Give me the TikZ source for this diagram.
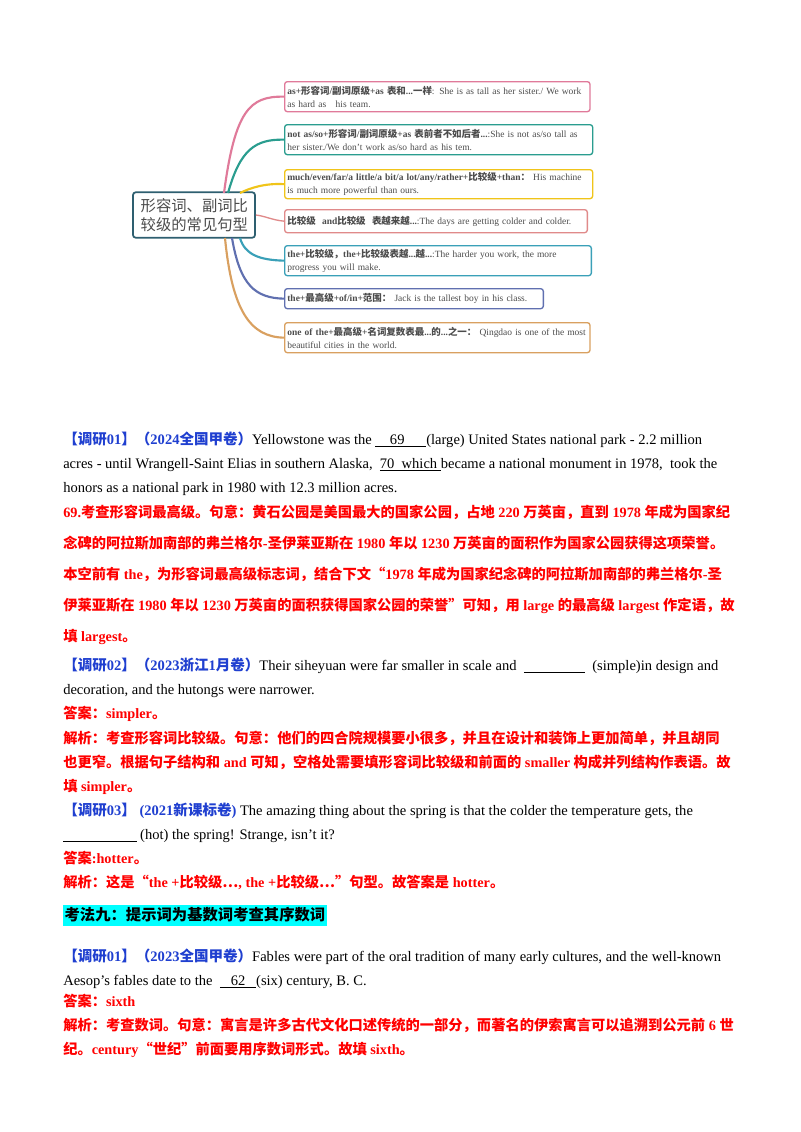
\documentclass[tikz,border=0pt]{standalone}
\usepackage{fontspec}
\setmainfont{Liberation Serif}
\newfontfamily\cjk{Noto Sans CJK SC}
\XeTeXinterchartokenstate=1
\newXeTeXintercharclass\CJKcls
\count255="3000
\loop \XeTeXcharclass\count255=\CJKcls \ifnum\count255<"9FFF \advance\count255 1 \repeat
\count255="FF00
\loop \XeTeXcharclass\count255=\CJKcls \ifnum\count255<"FFEF \advance\count255 1 \repeat
\XeTeXcharclass"201C=\CJKcls
\XeTeXcharclass"201D=\CJKcls
\XeTeXcharclass"2026=\CJKcls
\XeTeXinterchartoks 0 \CJKcls = {\cjk}
\XeTeXinterchartoks 4095 \CJKcls = {\cjk}
\XeTeXinterchartoks \CJKcls 0 = {\rmfamily}
\XeTeXinterchartoks \CJKcls 4095 = {\rmfamily}
\definecolor{qblue}{HTML}{1F3FD0}
\definecolor{qred}{HTML}{FF0000}
\definecolor{hcyan}{HTML}{00FFFF}
\definecolor{cpink}{HTML}{E07A9A}
\definecolor{cteal}{HTML}{2A9D8F}
\definecolor{cyel}{HTML}{F0C419}
\definecolor{cred}{HTML}{E08A8A}
\definecolor{ccyan}{HTML}{3AA0B8}
\definecolor{cblue}{HTML}{6070B0}
\definecolor{corg}{HTML}{D9A060}
\definecolor{cdark}{HTML}{2E5F70}
\begin{document}
\begin{tikzpicture}[x=0.75pt,y=-0.75pt,
  br/.style={draw=#1,line width=1pt,rounded corners=2pt,anchor=north west,inner sep=2pt,
    font=\fontsize{7.1}{9.6}\selectfont,text=black!70,align=left},
  con/.style={draw=#1,line width=1.6pt},
  ln/.style={anchor=base west,inner sep=0pt,font=\fontsize{10.9}{12}\selectfont},
  rl/.style={ln,text=qred,font=\fontsize{10.7}{12}\selectfont\bfseries}]
\useasboundingbox (0,0) rectangle (800,1132);
\fill[white] (0,0) rectangle (800,1132);
% mind map
\node[draw=cdark,line width=1.3pt,rounded corners=2pt,minimum width=91.5pt,minimum height=34pt,
  text width=80pt,align=center,font=\fontsize{11.5}{14}\selectfont,text=black!70,inner sep=2pt]
  (c) at (194,215) {形容词、副词比\\较级的常见句型};
\node[br=cpink,text width=225pt,minimum height=30*0.75pt] (b1) at (284,81) {\textbf{as+形容词/副词原级+as 表和...一样}: She is as tall as her sister./ We work as hard as\ \ \ his team.};
\node[br=cteal,text width=227pt,minimum height=30*0.75pt] (b2) at (284,124) {\textbf{not as/so+形容词/副词原级+as 表前者不如后者...}:She is not as/so tall as her sister./We don't work as/so hard as his tem.};
\node[br=cyel,text width=227pt,minimum height=29*0.75pt] (b3) at (284,169) {\textbf{much/even/far/a little/a bit/a lot/any/rather+比较级+than：} His machine is much more powerful than ours.};
\node[br=cred,text width=223pt,minimum height=23*0.75pt] (b4) at (284,209) {\textbf{比较级\ \ and比较级\ \ 表越来越...}:The days are getting colder and colder.};
\node[br=ccyan,text width=226pt,minimum height=30*0.75pt] (b5) at (284,245) {\textbf{the+比较级，the+比较级表越...越...}:The harder you work, the more progress you will make.};
\node[br=cblue,text width=190pt,minimum height=20*0.75pt] (b6) at (284,288) {\textbf{the+最高级+of/in+范围：} Jack is the tallest boy in his class.};
\node[br=corg,text width=225pt,minimum height=30*0.75pt] (b7) at (284,322) {\textbf{one of the+最高级+名词复数表最...的...之一：} Qingdao is one of the most beautiful cities in the world.};
\coordinate (s1) at (224,193);
\coordinate (s2) at (228,193);
\coordinate (s3) at (240,193);
\coordinate (s5) at (240,238);
\coordinate (s6) at (232,238);
\coordinate (s7) at (225,238);
\draw[con=cpink] (s1) .. controls (235,110) and (250,96) .. (b1.west);
\draw[con=cteal] (s2) .. controls (240,150) and (255,139) .. (b2.west);
\draw[con=cyel] (s3) .. controls (250,188) and (265,183) .. (b3.west);
\draw[con=cred,line width=1pt] (c.east) .. controls (265,216) and (272,220) .. (b4.west);
\draw[con=ccyan] (s5) .. controls (245,255) and (260,260) .. (b5.west);
\draw[con=cblue] (s6) .. controls (240,285) and (255,298) .. (b6.west);
\draw[con=corg] (s7) .. controls (232,310) and (250,337) .. (b7.west);
% text
\node[ln] (l1) at (63,444) {\textcolor{qblue}{\bfseries 【调研01】（2024全国甲卷）}Yellowstone was the \underline{\ \ \ \ 69\ \ \ \ \ \ }(large) United States national park - 2.2 million};
\node[ln] (l2) at (63,468) {acres - until Wrangell-Saint Elias in southern Alaska, \ \underline{70\ \ which\ }became a national monument in 1978, \ took the};
\node[ln] (l3) at (63,492) {honors as a national park in 1980 with 12.3 million acres.};
\node[rl] (l4) at (63,517) {69.考查形容词最高级。句意：黄石公园是美国最大的国家公园，占地 220 万英亩，直到 1978 年成为国家纪};
\node[rl] (l5) at (63,548) {念碑的阿拉斯加南部的弗兰格尔-圣伊莱亚斯在 1980 年以 1230 万英亩的面积作为国家公园获得这项荣誉。};
\node[rl] (l6) at (63,579) {本空前有 the，为形容词最高级标志词，结合下文“1978 年成为国家纪念碑的阿拉斯加南部的弗兰格尔-圣};
\node[rl] (l7) at (63,610) {伊莱亚斯在 1980 年以 1230 万英亩的面积获得国家公园的荣誉”可知，用 large 的最高级 largest 作定语，故};
\node[rl] (l8) at (63,641) {填 largest。};
\node[ln] (l9) at (63,670) {\textcolor{qblue}{\bfseries 【调研02】（2023浙江1月卷）}Their siheyuan were far smaller in scale and \ \underline{\hspace{46pt}} \ (simple)in design and};
\node[ln] (l10) at (63,694) {decoration, and the hutongs were narrower.};
\node[rl] (l11) at (63,718) {答案：simpler。};
\node[rl] (l12) at (63,743) {解析：考查形容词比较级。句意：他们的四合院规模要小很多，并且在设计和装饰上更加简单，并且胡同};
\node[rl] (l13) at (63,767) {也更窄。根据句子结构和 and 可知，空格处需要填形容词比较级和前面的 smaller 构成并列结构作表语。故};
\node[rl] (l14) at (63,791) {填 simpler。};
\node[ln] (l15) at (63,815) {\textcolor{qblue}{\bfseries 【调研03】 (2021新课标卷)} The amazing thing about the spring is that the colder the temperature gets, the};
\node[ln] (l16) at (63,839) {\underline{\hspace{55pt}} (hot) the spring! Strange, isn't it?};
\node[rl] (l17) at (63,863) {答案:hotter。};
\node[rl] (l18) at (63,887) {解析：这是“the +比较级…, the +比较级…”句型。故答案是 hotter。};
\node[fill=hcyan,inner sep=1pt,anchor=west,minimum height=21*0.75pt,font=\fontsize{11.5}{13}\selectfont\bfseries] (h) at (63,915) {考法九：提示词为基数词考查其序数词};
\node[ln] (l20) at (63,961) {\textcolor{qblue}{\bfseries 【调研01】（2023全国甲卷）}Fables were part of the oral tradition of many early cultures, and the well-known};
\node[ln] (l21) at (63,985) {Aesop's fables date to the \ \underline{\ \ \ 62\ \ \ }(six) century, B. C.};
\node[rl] (l22) at (63,1006) {答案：sixth};
\node[rl] (l23) at (63,1030) {解析：考查数词。句意：寓言是许多古代文化口述传统的一部分，而著名的伊索寓言可以追溯到公元前 6 世};
\node[rl] (l24) at (63,1054) {纪。century“世纪”前面要用序数词形式。故填 sixth。};
\end{tikzpicture}
\end{document}
